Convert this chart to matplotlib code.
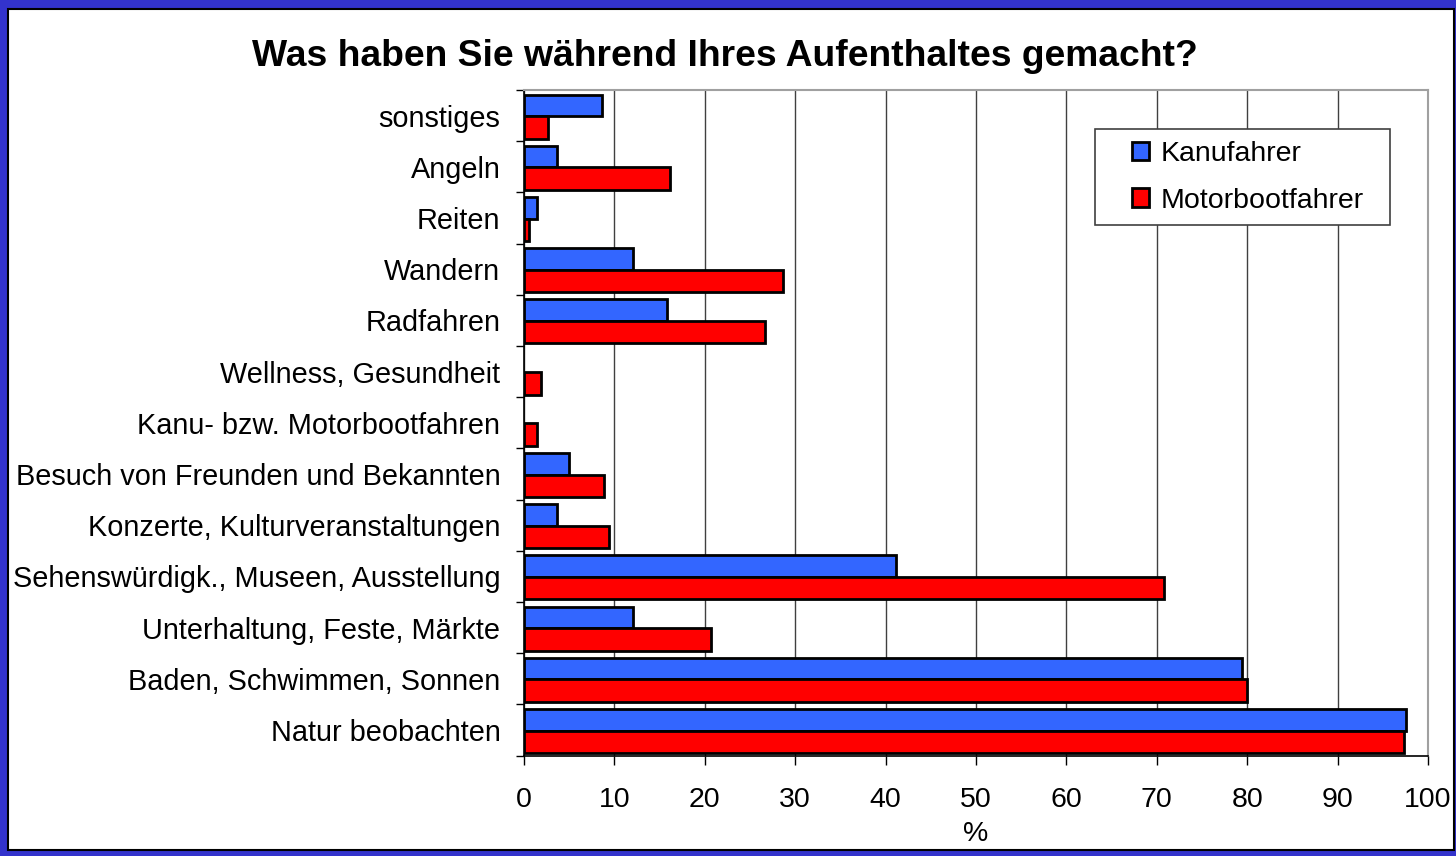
import numpy as np
import matplotlib
matplotlib.use('Agg')
import matplotlib.pyplot as plt
from matplotlib.patches import Rectangle

plt.rcParams['font.family'] = ['Liberation Sans', 'DejaVu Sans']

categories = ['sonstiges', 'Angeln', 'Reiten', 'Wandern', 'Radfahren',
              'Wellness, Gesundheit', 'Kanu- bzw. Motorbootfahren',
              'Besuch von Freunden und Bekannten', 'Konzerte, Kulturveranstaltungen',
              'Sehenswürdigk., Museen, Ausstellung', 'Unterhaltung, Feste, Märkte',
              'Baden, Schwimmen, Sonnen', 'Natur beobachten']
kanu = [8.6, 3.7, 1.4, 12.1, 15.8, 0, 0, 5.0, 3.7, 41.1, 12.1, 79.4, 97.6]
motor = [2.7, 16.1, 0.6, 28.7, 26.7, 1.9, 1.4, 8.9, 9.4, 70.8, 20.7, 80.0, 97.3]
xticks = list(range(0, 101, 10))

W, H = 1456, 856
fig = plt.figure(figsize=(W / 100, H / 100), dpi=100)
fig.patch.set_facecolor('#3333CC')
fig.patches.append(Rectangle((8 / W, 6 / H), 1446 / W, 841 / H,
                             transform=fig.transFigure, facecolor='white',
                             edgecolor='black', linewidth=1.5, zorder=-5))

ax = fig.add_axes([524 / W, 1 - 755.6 / H, 904 / W, 665.6 / H])
ax.set_zorder(2)
y = np.arange(len(categories))
# no outline for empty (0 %) bars
ax.barh(y - 0.2, kanu, height=0.42, color='#3366FF', edgecolor='black',
        linewidth=[2 if v > 0 else 0 for v in kanu], label='Kanufahrer', zorder=3)
ax.barh(y + 0.23, motor, height=0.44, color='#FF0000', edgecolor='black',
        linewidth=[2 if v > 0 else 0 for v in motor], label='Motorbootfahrer', zorder=3)

ax.set_xlim(0, 100)
ax.set_ylim(len(categories) - 0.5, -0.5)
ax.set_xticks(xticks)
ax.set_xticklabels([str(t) for t in xticks], fontsize=20.5)
ax.set_yticks(y)
ax.set_yticklabels(categories, fontsize=20.8)
ax.set_yticks(np.arange(len(categories) + 1) - 0.5, minor=True)
ax.tick_params(axis='y', which='major', length=0, pad=17)
ax.tick_params(axis='y', which='minor', length=6, width=1, direction='out')
ax.tick_params(axis='x', length=6.5, width=1, direction='out', pad=16)
ax.grid(axis='x', color='#404040', linewidth=1, zorder=0)
ax.set_axisbelow(True)
for s in ['top', 'right']:
    ax.spines[s].set_color('#A0A0A0')
    ax.spines[s].set_linewidth(1.5)
for s in ['left', 'bottom']:
    ax.spines[s].set_color('black')
    ax.spines[s].set_linewidth(1.2)
ax.set_xlabel('%', fontsize=20.5, labelpad=6)

# legend frame drawn separately (wide left padding like the original)
frame = Rectangle(((1095 - 524) / 904, 1 - (225 - 90) / 665.6),
                  (1390 - 1095) / 904, (225 - 129) / 665.6,
                  transform=ax.transAxes, facecolor='white', edgecolor='#404040',
                  linewidth=1.2, zorder=5)
ax.add_patch(frame)
leg = ax.legend(loc='upper left',
                bbox_to_anchor=((1132 - 524) / 904, 1 - (141 - 90) / 665.6),
                fontsize=20.5, frameon=False,
                handlelength=0.6, handleheight=0.6, handletextpad=0.4,
                borderpad=0, labelspacing=0.72, borderaxespad=0)
leg.set_zorder(6)
for h in leg.legend_handles:
    h.set_linewidth(2)

fig.text(725 / W, 1 - 56 / H, 'Was haben Sie während Ihres Aufenthaltes gemacht?',
         fontsize=26.8, fontweight='bold', ha='center', va='center')

fig.savefig('out.png', dpi=100, facecolor=fig.get_facecolor())
